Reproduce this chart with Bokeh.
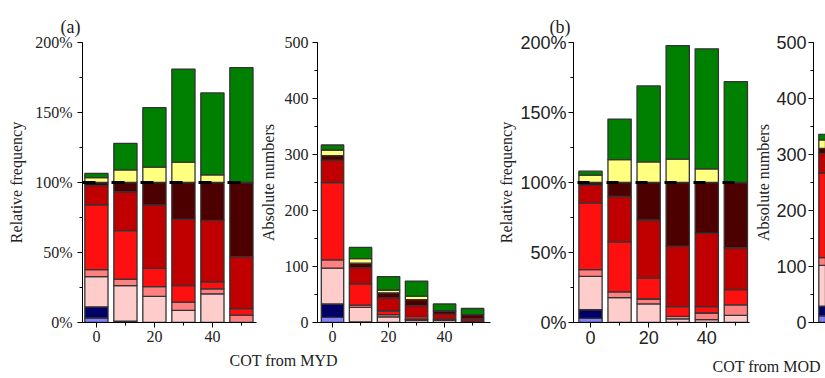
from bokeh.plotting import figure
from bokeh.models import (ColumnDataSource, Span, Title, SingleIntervalTicker,
                          PrintfTickFormatter, Range1d)
from bokeh.layouts import row
from bokeh.embed import file_html
from bokeh.resources import INLINE

# cloud-type classes, bottom to top of each stack
classes = ["lightblue", "navy", "pink", "salmon", "red",
           "darkred", "maroon", "yellow", "green"]
class_colors = ["#8080ff", "#000066", "#ffcccc", "#ff8080", "#ff1010",
                "#c00000", "#4c0000", "#ffff80", "#008000"]

cot_bins = [0, 10, 20, 30, 40, 50]

# relative frequency (%) per class and COT bin, MYD
myd_rel = {
    "lightblue": [3.2, 0.0, 0.0, 0.0, 0.0, 0.0],
    "navy":      [8.0, 1.0, 0.0, 0.0, 0.0, 0.0],
    "pink":      [21.6, 25.4, 18.6, 8.7, 20.5, 0.0],
    "salmon":    [5.0, 4.6, 7.0, 5.9, 3.5, 5.2],
    "red":       [46.2, 34.6, 13.0, 11.8, 5.0, 4.7],
    "darkred":   [13.7, 27.8, 45.4, 47.5, 44.0, 37.1],
    "maroon":    [2.3, 6.6, 16.0, 26.1, 27.0, 53.0],
    "yellow":    [3.5, 9.0, 11.0, 14.5, 5.5, 0.0],
    "green":     [3.0, 19.0, 42.5, 66.5, 58.5, 82.0],
}

# absolute numbers per class and COT bin, MYD
myd_abs = {
    "lightblue": [9, 0, 0, 0, 0, 0],
    "navy":      [24, 1, 0, 0, 0, 0],
    "pink":      [64, 26, 10, 4, 4, 0],
    "salmon":    [15, 4, 4, 2, 1, 1],
    "red":       [138, 38, 7, 5, 1, 1],
    "darkred":   [40, 29, 23, 19, 9, 5],
    "maroon":    [8, 8, 9, 11, 5, 7],
    "yellow":    [10, 8, 5, 6, 1, 0],
    "green":     [9, 20, 24, 27, 12, 11],
}

# relative frequency (%) per class and COT bin, MOD
mod_rel = {
    "lightblue": [3.0, 0.0, 0.0, 0.0, 0.0, 0.0],
    "navy":      [6.1, 0.0, 0.0, 0.0, 0.0, 0.0],
    "pink":      [23.8, 17.7, 13.3, 2.6, 2.1, 5.1],
    "salmon":    [4.9, 4.2, 3.5, 1.8, 4.7, 7.5],
    "red":       [47.7, 35.7, 15.1, 7.0, 4.6, 10.9],
    "darkred":   [12.6, 32.4, 41.3, 43.1, 52.5, 29.9],
    "maroon":    [1.9, 10.0, 26.8, 45.5, 36.1, 46.6],
    "yellow":    [5.3, 16.3, 14.7, 16.7, 9.8, 0.0],
    "green":     [2.8, 29.0, 54.3, 81.1, 85.7, 72.0],
}

# absolute numbers, MOD (first COT bin)
mod_abs_bins = [0]
mod_abs = {
    "lightblue": [12],
    "navy":      [17],
    "pink":      [73],
    "salmon":    [14],
    "red":       [151],
    "darkred":   [35],
    "maroon":    [9],
    "yellow":    [15],
    "green":     [10],
}

SERIF = "Liberation Serif"
SANS = "Liberation Sans"
INK = "#222222"
BAR_WIDTH = 8


def make_panel(bins, data, width, borders, x_range, y_range, y_interval,
               y_label, tick_font, tick_size, percent, margin=None,
               label_standoff=5, tick_standoff=4):
    left, right, top, bottom = borders
    p = figure(width=width, height=378, output_backend="svg",
               toolbar_location=None, x_range=Range1d(*x_range),
               y_range=Range1d(*y_range), min_border_left=left,
               min_border_right=right, min_border_top=top,
               min_border_bottom=bottom)
    if margin is not None:
        p.margin = margin
    p.background_fill_color = None
    p.border_fill_color = None
    p.outline_line_color = None
    p.grid.visible = False

    src = dict(cot=bins)
    src.update(data)
    p.vbar_stack(classes, x="cot", width=BAR_WIDTH, color=class_colors,
                 line_color="#333333", line_width=1.3,
                 source=ColumnDataSource(src))

    p.xaxis.ticker = SingleIntervalTicker(interval=20, num_minor_ticks=2)
    p.yaxis.ticker = SingleIntervalTicker(interval=y_interval, num_minor_ticks=2)
    if percent:
        p.yaxis.formatter = PrintfTickFormatter(format="%d%%")
    for ax in (p.xaxis[0], p.yaxis[0]):
        ax.axis_line_color = "black"
        ax.major_tick_line_color = "black"
        ax.minor_tick_line_color = "black"
        ax.major_tick_in = 0
        ax.major_tick_out = 5
        ax.minor_tick_in = 0
        ax.minor_tick_out = 3
        ax.major_label_text_font = tick_font
        ax.major_label_text_font_size = tick_size
        ax.major_label_text_color = INK
    p.xaxis.major_label_standoff = 3
    p.yaxis.major_label_standoff = tick_standoff
    p.yaxis.axis_label = y_label
    p.yaxis.axis_label_text_font = SERIF
    p.yaxis.axis_label_text_font_style = "normal"
    p.yaxis.axis_label_text_font_size = "16px"
    p.yaxis.axis_label_text_color = INK
    p.yaxis.axis_label_standoff = label_standoff
    return p


def side_title(p, text, side, offset, size="16px", standoff=2):
    p.add_layout(Title(text=text, align="left", offset=offset,
                       text_font=SERIF, text_font_size=size,
                       text_font_style="normal", text_color=INK,
                       standoff=standoff), side)


# (a) MYD relative frequency
pa = make_panel(cot_bins, myd_rel, 262, (82, 6, 38, 56), (-4.8, 55.2),
                (0, 200), 50, "Relative frequency", SERIF, "16px", True,
                label_standoff=7, tick_standoff=5)
pa.add_layout(Span(location=100, dimension="width", line_color="black",
                   line_width=3, line_dash="13 16"))
side_title(pa, "(a)", "above", -22, "18px", standoff=11)

# (a) MYD absolute numbers
pb = make_panel(cot_bins, myd_abs, 273, (95, 5, 42, 53), (-5.36, 56.4),
                (0, 500), 100, "Absolute numbers", SERIF, "16px", False,
                margin=(0, 0, 0, -40), label_standoff=5, tick_standoff=4)
side_title(pb, "COT from MYD", "below", -88, standoff=10)

# (b) MOD relative frequency
pc = make_panel(cot_bins, mod_rel, 257, (77, 3, 38, 53), (-5.85, 54.7),
                (0, 200), 50, "Relative frequency", SANS, "18px", True,
                label_standoff=2, tick_standoff=2)
pc.add_layout(Span(location=100, dimension="width", line_color="black",
                   line_width=3, line_dash="12 17", line_dash_offset=25))
side_title(pc, "(b)", "above", -24, "18px", standoff=11)

# (b) MOD absolute numbers; its x axis has no ticks in view, so a blank
# axis label keeps the shared COT caption at the usual depth
pd = make_panel(mod_abs_bins, mod_abs, 125, (113, 0, 40, 53), (-5.9, -1.6),
                (0, 500), 100, "Absolute numbers", SANS, "18px", False,
                margin=(0, 0, 0, -52), label_standoff=1, tick_standoff=2)
pd.xaxis.axis_label = " "
pd.xaxis.axis_label_text_font = SERIF
pd.xaxis.axis_label_text_font_size = "16px"
pd.xaxis.axis_label_standoff = 13
side_title(pd, "COT from MOD", "below", -101, standoff=0)

layout = row(pa, pb, pc, pd, spacing=0)
open("out.html", "w").write(file_html(layout, INLINE))
